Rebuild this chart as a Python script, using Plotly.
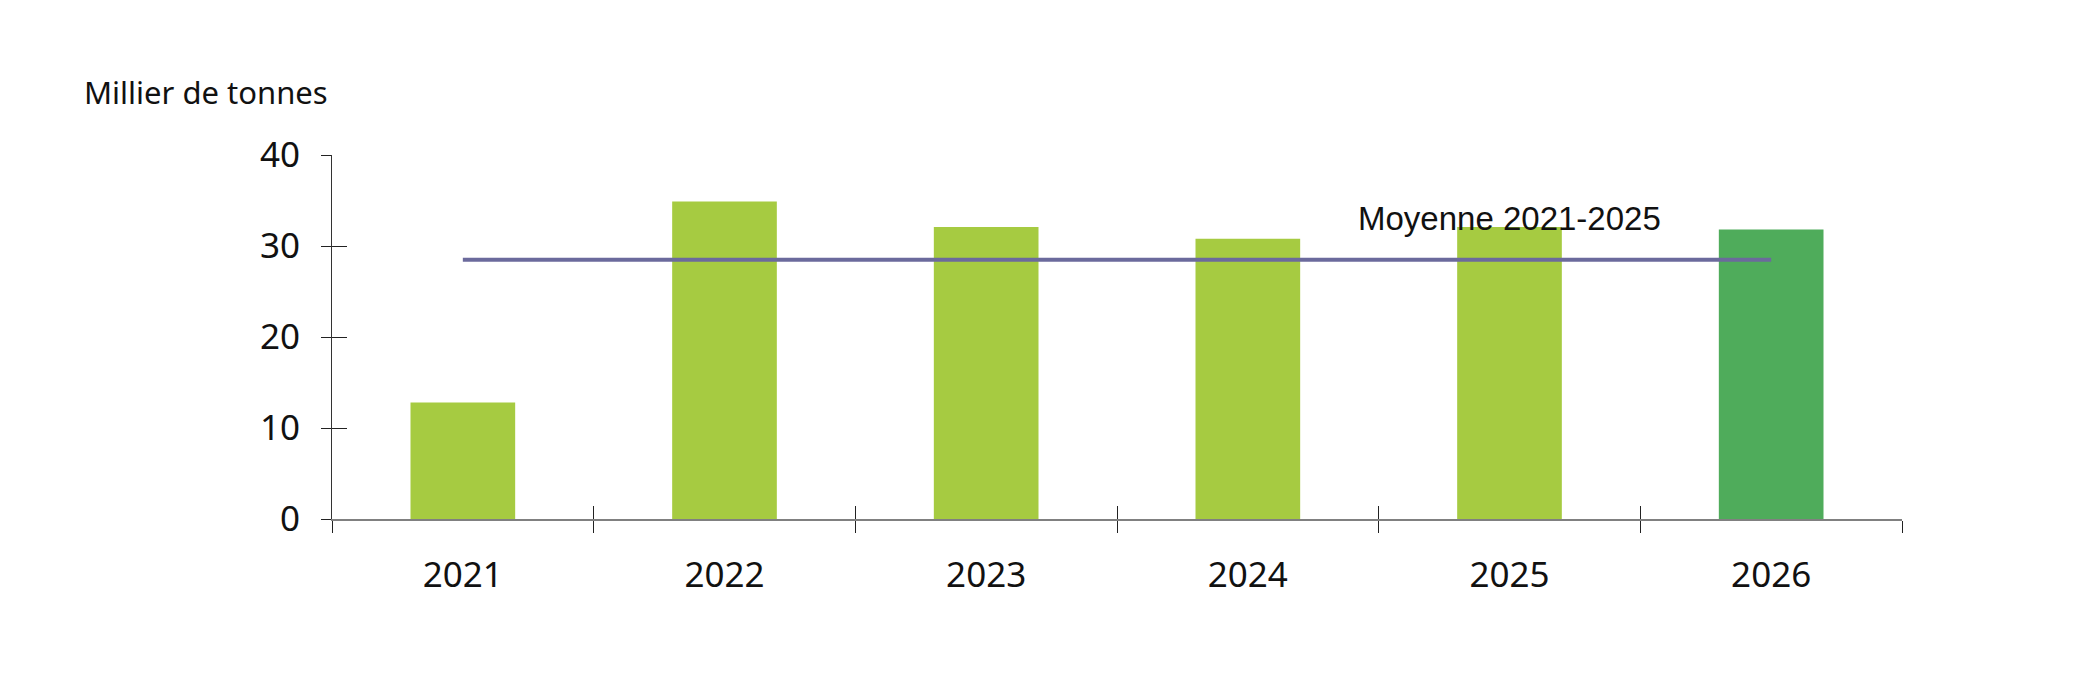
import plotly.graph_objects as go

# données (milliers de tonnes)
annees = ["2021", "2022", "2023", "2024", "2025", "2026"]
production = [12.8, 34.9, 32.1, 30.8, 32.1, 31.8]
moyenne_2021_2025 = 28.5
couleurs = ["#a6cb41", "#a6cb41", "#a6cb41", "#a6cb41", "#a6cb41", "#4fac5b"]

# la page html a une marge de 8 px autour de la figure
W, H = 2068, 680
ML, MR, MT, MB = 324, 174, 147, 169

fig = go.Figure()

fig.add_trace(go.Bar(
    x=annees,
    y=production,
    marker_color=couleurs,
    marker_line_width=0,
    width=0.4,
    showlegend=False
))

# ligne de moyenne, sur les axes doublés (pour les graduations qui traversent)
fig.add_trace(go.Scatter(
    x=annees,
    y=[moyenne_2021_2025] * len(annees),
    mode="lines",
    line=dict(color="#6b6a9c", width=4),
    xaxis="x2",
    yaxis="y2",
    showlegend=False
))

fig.add_annotation(
    x=annees.index("2025"), y=33.0, xref="x", yref="y",
    text="Moyenne 2021-2025",
    showarrow=False,
    xanchor="center", yanchor="middle",
    font=dict(family="Liberation Sans", size=33, color="#111111")
)

# titre placé en pixels -> coordonnées paper
fig.add_annotation(
    x=(82 - 8 - ML) / (W - ML - MR),
    y=(H - MB - (92 - 8)) / (H - MT - MB),
    xref="paper", yref="paper",
    text="Millier de tonnes",
    showarrow=False,
    xanchor="left", yanchor="middle",
    font=dict(family="Noto Sans", size=31, color="#111111")
)

fig.update_layout(
    width=W,
    height=H,
    margin=dict(l=ML, r=MR, t=MT, b=MB),
    plot_bgcolor="white",
    paper_bgcolor="white",
    font=dict(family="Noto Sans", size=35, color="#111111"),
    xaxis=dict(
        type="category",
        categoryarray=annees,
        range=[-0.5, 5.5],
        showline=True, linecolor="#808080", linewidth=2,
        ticks="outside", tickson="boundaries", ticklen=12,
        tickcolor="#222222", tickwidth=1,
        ticklabelstandoff=24,
        showgrid=False, zeroline=False,
    ),
    xaxis2=dict(
        type="category",
        categoryarray=annees,
        range=[-0.5, 5.5],
        overlaying="x",
        showline=False, showticklabels=False,
        ticks="inside", tickson="boundaries", ticklen=13,
        tickcolor="#222222", tickwidth=1,
        showgrid=False, zeroline=False,
    ),
    yaxis=dict(
        range=[0, 40], dtick=10,
        showline=True, linecolor="#333333", linewidth=1,
        ticks="outside", ticklen=10,
        tickcolor="#222222", tickwidth=1,
        ticklabelstandoff=14,
        showgrid=False, zeroline=False,
    ),
    yaxis2=dict(
        range=[0, 40], dtick=10,
        overlaying="y",
        showline=False, showticklabels=False,
        ticks="inside", ticklen=15,
        tickcolor="#222222", tickwidth=1,
        showgrid=False, zeroline=False,
    ),
)

fig.write_html("out.html")
